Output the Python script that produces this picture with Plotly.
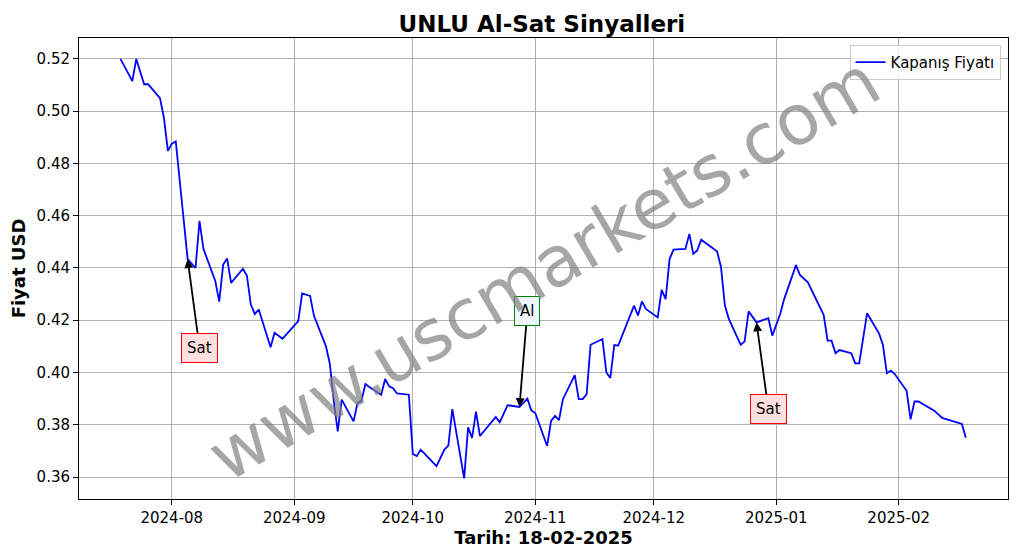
import plotly.graph_objects as go

dates = [
    "2024-07-19", "2024-07-22", "2024-07-23", "2024-07-25", "2024-07-26", "2024-07-29", "2024-07-30", "2024-07-31",
    "2024-08-01", "2024-08-02", "2024-08-05", "2024-08-07", "2024-08-08", "2024-08-09", "2024-08-12", "2024-08-13",
    "2024-08-14", "2024-08-15", "2024-08-16", "2024-08-19", "2024-08-20", "2024-08-21", "2024-08-22", "2024-08-23",
    "2024-08-26", "2024-08-27", "2024-08-29", "2024-09-02", "2024-09-03", "2024-09-05", "2024-09-06", "2024-09-09",
    "2024-09-10", "2024-09-11", "2024-09-12", "2024-09-13", "2024-09-16", "2024-09-17", "2024-09-18", "2024-09-19",
    "2024-09-20", "2024-09-23", "2024-09-24", "2024-09-25", "2024-09-26", "2024-09-27", "2024-09-30",
    "2024-10-01", "2024-10-02", "2024-10-03", "2024-10-07", "2024-10-09", "2024-10-10", "2024-10-11", "2024-10-14",
    "2024-10-15", "2024-10-16", "2024-10-17", "2024-10-18", "2024-10-22", "2024-10-23", "2024-10-25", "2024-10-28",
    "2024-10-30", "2024-10-31", "2024-11-01", "2024-11-04", "2024-11-05", "2024-11-06", "2024-11-07", "2024-11-08",
    "2024-11-11", "2024-11-12", "2024-11-13", "2024-11-14", "2024-11-15", "2024-11-18", "2024-11-19", "2024-11-20",
    "2024-11-21", "2024-11-22", "2024-11-26", "2024-11-27", "2024-11-28", "2024-11-29", "2024-12-02", "2024-12-03",
    "2024-12-04", "2024-12-05", "2024-12-06", "2024-12-09", "2024-12-10", "2024-12-11", "2024-12-12", "2024-12-13",
    "2024-12-16", "2024-12-17", "2024-12-18", "2024-12-19", "2024-12-20", "2024-12-23", "2024-12-24", "2024-12-25",
    "2024-12-27", "2024-12-30", "2024-12-31", "2025-01-02", "2025-01-03", "2025-01-06", "2025-01-07", "2025-01-08",
    "2025-01-09", "2025-01-13", "2025-01-14", "2025-01-15", "2025-01-16", "2025-01-17", "2025-01-20", "2025-01-21",
    "2025-01-22", "2025-01-24", "2025-01-27", "2025-01-28", "2025-01-29", "2025-01-30", "2025-01-31", "2025-02-03",
    "2025-02-04", "2025-02-05", "2025-02-06", "2025-02-10", "2025-02-12", "2025-02-13", "2025-02-17", "2025-02-18",
]
prices = [
    0.520, 0.5115, 0.520, 0.5103, 0.5103, 0.505, 0.4975, 0.4848,
    0.4876, 0.4884, 0.4434, 0.440, 0.458, 0.4473, 0.435, 0.4271,
    0.4413, 0.4436, 0.4343, 0.4397, 0.4371, 0.426, 0.4224, 0.4241,
    0.4097, 0.4152, 0.4129, 0.4197, 0.4303, 0.4293, 0.4216, 0.4101,
    0.4033, 0.389, 0.3775, 0.3896, 0.3813, 0.3883, 0.3892, 0.3956,
    0.3945, 0.3915, 0.3975, 0.3947, 0.394, 0.392, 0.3915,
    0.3688, 0.368, 0.3705, 0.3642, 0.3705, 0.372, 0.386, 0.3595,
    0.379, 0.375, 0.385, 0.3757, 0.383, 0.381, 0.3875, 0.3868,
    0.390, 0.3855, 0.3845, 0.3719, 0.3815, 0.3834, 0.3818, 0.3898,
    0.399, 0.3898, 0.3898, 0.3917, 0.4106, 0.4128, 0.400, 0.3979,
    0.4105, 0.4103, 0.4256, 0.4218, 0.4272, 0.4243, 0.4211, 0.4316,
    0.4281, 0.4434, 0.447, 0.4473, 0.453, 0.4454, 0.4467, 0.4508,
    0.4473, 0.4464, 0.4405, 0.4256, 0.4205, 0.4106, 0.4119, 0.4234,
    0.4192, 0.4208, 0.4141, 0.4224, 0.4281, 0.4411, 0.4373, 0.436,
    0.4345, 0.4221, 0.4122, 0.4122, 0.4074, 0.4086, 0.4074, 0.4035,
    0.4035, 0.4227, 0.415, 0.4106, 0.3997, 0.4007, 0.3994, 0.393,
    0.3821, 0.3889, 0.3889, 0.3854, 0.3826, 0.3822, 0.3803, 0.375,
]

# signals: (label, point date, point price, text date, text price)
signals = [
    ("Sat", "2024-08-05", 0.4434, "2024-08-08", 0.4095),
    ("Al", "2024-10-28", 0.3868, "2024-10-30", 0.4235),
    ("Sat", "2024-12-27", 0.4192, "2024-12-30", 0.386),
]

fig = go.Figure()
fig.add_trace(go.Scatter(x=dates, y=prices, mode="lines", name="Kapanış Fiyatı",
                         line=dict(color="blue", width=1.8)))

for label, xd, yv, tx, ty in signals:
    if label == "Al":
        bg, bc = "#eef6ff", "green"
    else:
        bg, bc = "#ffe0e0", "red"
    fig.add_annotation(x=xd, y=yv, ax=tx, ay=ty, axref="x", ayref="y", xref="x", yref="y",
                       text=label, showarrow=True, arrowhead=2, arrowsize=1, arrowwidth=1.8,
                       arrowcolor="black", bgcolor=bg, bordercolor=bc, borderwidth=1, borderpad=5,
                       font=dict(size=15, color="black"))

fig.add_annotation(x=0.5, y=0.5, xref="paper", yref="paper", text="www.uscmarkets.com",
                   showarrow=False, textangle=-30.5, font=dict(size=70, color="rgba(128,128,128,0.7)"))

# page has ~7px offset, so margins are shifted to land the plot where the reference has it
fig.update_layout(
    width=1017, height=554,
    margin=dict(l=71, r=17, t=30, b=63, autoexpand=False),
    paper_bgcolor="white", plot_bgcolor="white",
    font=dict(family="DejaVu Sans", size=15, color="black"),
    title=dict(text="<b>UNLU Al-Sat Sinyalleri</b>", x=0.525, xanchor="center", y=0.985, yanchor="top",
               font=dict(size=23)),
    legend=dict(x=0.992, y=0.985, xanchor="right", yanchor="top", bordercolor="#cccccc",
                borderwidth=1, bgcolor="rgba(255,255,255,0.8)", font=dict(size=15)),
    showlegend=True,
)
fig.update_xaxes(range=["2024-07-08 12:00", "2025-02-28 16:00"], tickformat="%Y-%m", dtick="M1",
                 tick0="2024-08-01", showgrid=True, gridcolor="#b0b0b0", showline=True, linecolor="black",
                 mirror=True, ticks="outside", ticklen=5, tickcolor="black", automargin=False,
                 title=dict(text="<b>Tarih: 18-02-2025</b>", standoff=2))
fig.update_yaxes(range=[0.3516, 0.528], dtick=0.02, tickformat=".2f", showgrid=True, gridcolor="#b0b0b0",
                 showline=True, linecolor="black", mirror=True, ticks="outside", ticklen=5, tickcolor="black",
                 automargin=False, title=dict(text="<b>Fiyat USD</b>", standoff=6))

fig.write_html("out.html")
